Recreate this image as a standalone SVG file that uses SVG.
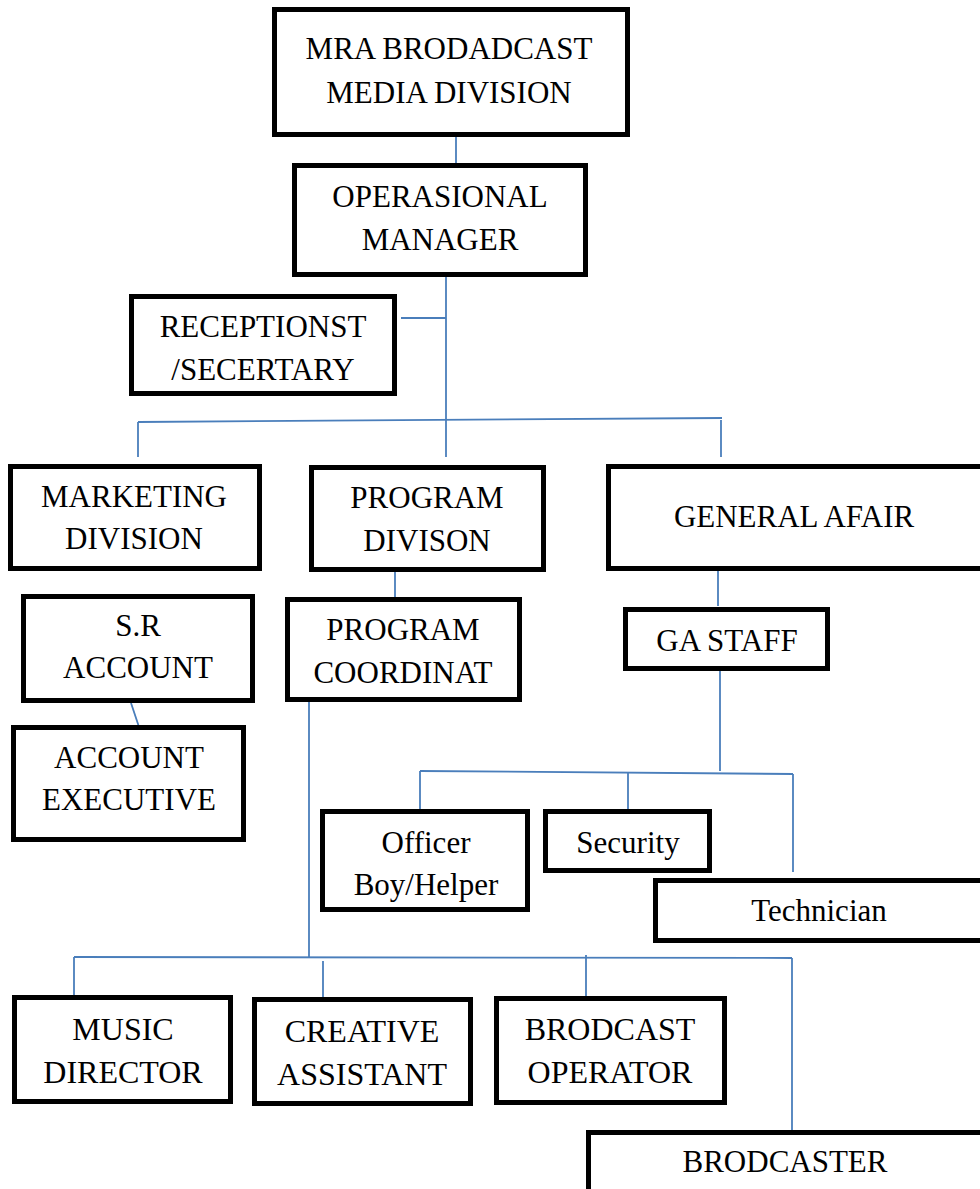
<svg xmlns="http://www.w3.org/2000/svg" width="980" height="1189" viewBox="0 0 980 1189">
<style>
.box{fill:#fff;stroke:#000;stroke-width:5}
.t{font-family:"Liberation Serif","Times New Roman",serif;font-size:31px;fill:#000;text-anchor:middle}
.b{font-size:32px}
.c{fill:none;stroke:#4a7ebb;stroke-width:1.8}
</style>
<rect width="980" height="1189" fill="#fff"/>
<g id="connectors">
<line class="c" x1="456" y1="137" x2="456" y2="164"/>
<line class="c" x1="446" y1="277" x2="446" y2="457"/>
<line class="c" x1="401" y1="318" x2="446" y2="318"/>
<line class="c" x1="138" y1="422" x2="722" y2="418"/>
<line class="c" x1="138" y1="422" x2="138" y2="457"/>
<line class="c" x1="721" y1="420" x2="721" y2="457"/>
<line class="c" x1="395" y1="570" x2="395" y2="599"/>
<line class="c" x1="718" y1="569" x2="718" y2="606"/>
<line class="c" x1="131" y1="703" x2="139" y2="727"/>
<line class="c" x1="720" y1="669" x2="720" y2="771"/>
<line class="c" x1="420" y1="771" x2="793" y2="774"/>
<line class="c" x1="420" y1="771" x2="420" y2="809"/>
<line class="c" x1="628" y1="773" x2="628" y2="809"/>
<line class="c" x1="793" y1="774" x2="793" y2="872"/>
<line class="c" x1="309" y1="702" x2="309" y2="957"/>
<line class="c" x1="74" y1="957" x2="792" y2="958"/>
<line class="c" x1="74" y1="957" x2="74" y2="997"/>
<line class="c" x1="323" y1="961" x2="323" y2="1002"/>
<line class="c" x1="586" y1="955" x2="586" y2="997"/>
<line class="c" x1="792" y1="958" x2="792" y2="1132"/>
</g>
<g id="n-mra"><rect class="box" x="274.5" y="9.5" width="353" height="125"/><text class="t" x="449" y="59">MRA BRODADCAST</text><text class="t" x="449" y="103">MEDIA DIVISION</text></g>
<g id="n-oper"><rect class="box" x="294.5" y="165.5" width="291" height="109"/><text class="t" x="440" y="207">OPERASIONAL</text><text class="t" x="440" y="250">MANAGER</text></g>
<g id="n-recep"><rect class="box" x="131.5" y="296.5" width="263" height="97"/><text class="t" x="263" y="337">RECEPTIONST</text><text class="t" x="263" y="380">/SECERTARY</text></g>
<g id="n-marketing"><rect class="box" x="10.5" y="466.5" width="249" height="102"/><text class="t" x="134" y="507">MARKETING</text><text class="t" x="134" y="549">DIVISION</text></g>
<g id="n-progdiv"><rect class="box" x="311.5" y="467.5" width="232" height="102"/><text class="t" x="427" y="508">PROGRAM</text><text class="t" x="427" y="551">DIVISON</text></g>
<g id="n-general"><rect class="box" x="608.5" y="466.5" width="380" height="102"/><text class="t" x="794" y="527">GENERAL AFAIR</text></g>
<g id="n-sr"><rect class="box" x="23.5" y="596.5" width="229" height="104"/><text class="t" x="138" y="636">S.R</text><text class="t" x="138" y="678">ACCOUNT</text></g>
<g id="n-progcoord"><rect class="box" x="287.5" y="599.5" width="232" height="100"/><text class="t" x="403" y="640">PROGRAM</text><text class="t" x="403" y="683">COORDINAT</text></g>
<g id="n-gastaff"><rect class="box" x="625.5" y="609.5" width="202" height="59"/><text class="t" x="727" y="651">GA STAFF</text></g>
<g id="n-accexec"><rect class="box" x="13.5" y="727.5" width="230" height="112"/><text class="t" x="129" y="768">ACCOUNT</text><text class="t" x="129" y="810">EXECUTIVE</text></g>
<g id="n-officer"><rect class="box" x="322.5" y="811.5" width="205" height="98"/><text class="t" x="426" y="853">Officer</text><text class="t" x="426" y="895">Boy/Helper</text></g>
<g id="n-security"><rect class="box" x="545.5" y="811.5" width="164" height="59"/><text class="t" x="628" y="853">Security</text></g>
<g id="n-tech"><rect class="box" x="655.5" y="880.5" width="330" height="60"/><text class="t" x="819" y="921">Technician</text></g>
<g id="n-music"><rect class="box" x="14.5" y="997.5" width="216" height="104"/><text class="t b" x="123" y="1040">MUSIC</text><text class="t b" x="123" y="1083">DIRECTOR</text></g>
<g id="n-creative"><rect class="box" x="254.5" y="999.5" width="216" height="104"/><text class="t b" x="362" y="1042">CREATIVE</text><text class="t b" x="362" y="1085">ASSISTANT</text></g>
<g id="n-brodop"><rect class="box" x="496.5" y="998.5" width="228" height="104"/><text class="t b" x="610" y="1040">BRODCAST</text><text class="t b" x="610" y="1083">OPERATOR</text></g>
<g id="n-brodcaster"><rect class="box" x="588.5" y="1132.5" width="400" height="64"/><text class="t" x="785" y="1172">BRODCASTER</text></g>
</svg>
